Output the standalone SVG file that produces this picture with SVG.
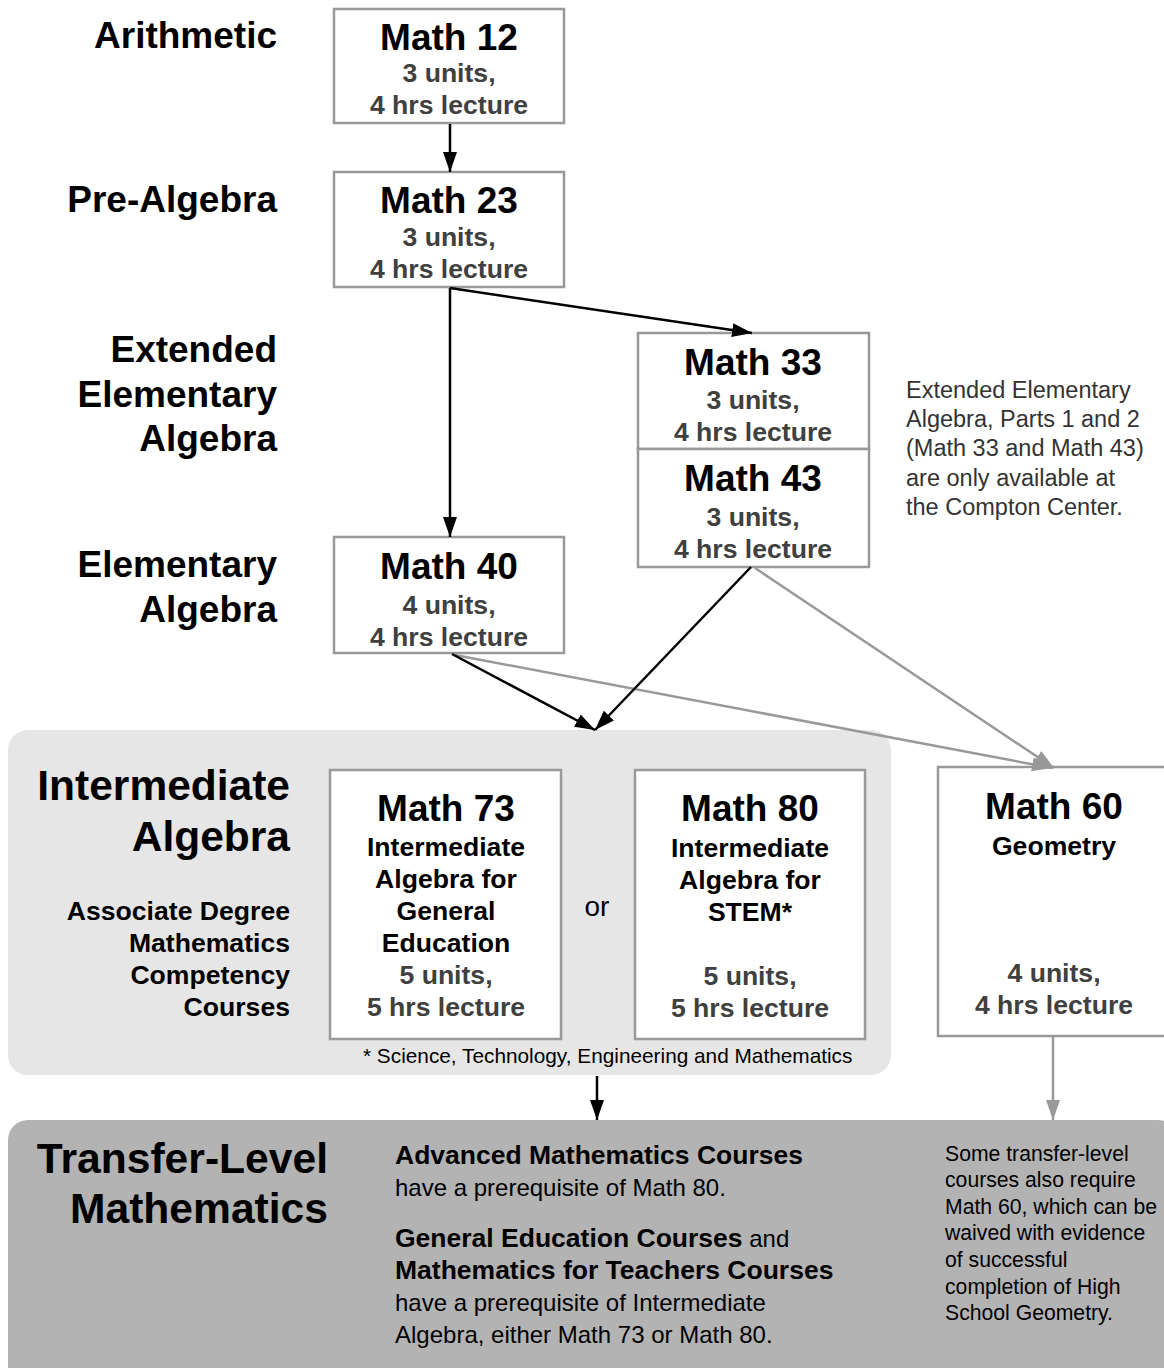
<svg xmlns="http://www.w3.org/2000/svg" width="1164" height="1368" viewBox="0 0 1164 1368">
<style>
text{font-family:"Liberation Sans",Arial,sans-serif}
.box{fill:#fff;stroke:#999;stroke-width:2.5}
.lbl{font-weight:bold;font-size:37px;fill:#000;text-anchor:end}
.ttl{font-weight:bold;font-size:37px;fill:#000;text-anchor:middle}
.sub{font-weight:bold;font-size:26.6px;fill:#404040;text-anchor:middle}
.subk{font-weight:bold;font-size:26.6px;fill:#000;text-anchor:middle}
.big{font-weight:bold;font-size:42.5px;fill:#000;text-anchor:end}
.note{font-size:23.5px;fill:#333}
.blk{stroke:#000;stroke-width:2.5;fill:none}
.gry{stroke:#999;stroke-width:2.5;fill:none}
</style>
<defs>
<marker id="hb" viewBox="0 0 20 14" refX="20" refY="7" markerWidth="20" markerHeight="14" markerUnits="userSpaceOnUse" orient="auto">
<path d="M0,0 L20,7 L0,14 z" fill="#000"/>
</marker>
<marker id="hg" viewBox="0 0 20 14" refX="20" refY="7" markerWidth="20" markerHeight="14" markerUnits="userSpaceOnUse" orient="auto">
<path d="M0,0 L20,7 L0,14 z" fill="#999"/>
</marker>
</defs>

<g id="panel-intermediate">
<rect x="8" y="730" width="883" height="345" rx="20" fill="#e6e6e6"/>
<text class="big" x="290" y="800">Intermediate</text>
<text class="big" x="290" y="851">Algebra</text>
<text class="subk" x="290" y="920" style="text-anchor:end">Associate Degree</text>
<text class="subk" x="290" y="952" style="text-anchor:end">Mathematics</text>
<text class="subk" x="290" y="984" style="text-anchor:end">Competency</text>
<text class="subk" x="290" y="1016" style="text-anchor:end">Courses</text>
<text x="597" y="916" font-size="28" fill="#000" text-anchor="middle">or</text>
<text x="363" y="1063" font-size="20.8" fill="#000">* Science, Technology, Engineering and Mathematics</text>
</g>

<g id="panel-transfer">
<rect x="8" y="1120" width="1170" height="270" rx="20" fill="#b3b3b3"/>
<text x="328" y="1173" font-size="42.6" font-weight="bold" fill="#000" text-anchor="end">Transfer-Level</text>
<text x="328" y="1223" font-size="42.6" font-weight="bold" fill="#000" text-anchor="end">Mathematics</text>
<g font-size="24" fill="#000">
<text x="395" y="1164" font-weight="bold" font-size="26.5">Advanced Mathematics Courses</text>
<text x="395" y="1196">have a prerequisite of Math 80.</text>
<text x="395" y="1247"><tspan font-weight="bold" font-size="26.5">General Education Courses</tspan> and</text>
<text x="395" y="1279" font-weight="bold" font-size="26.5">Mathematics for Teachers Courses</text>
<text x="395" y="1311">have a prerequisite of Intermediate</text>
<text x="395" y="1343">Algebra, either Math 73 or Math 80.</text>
</g>
<g font-size="21.2" fill="#000">
<text x="945" y="1161">Some transfer-level</text>
<text x="945" y="1187">courses also require</text>
<text x="945" y="1214">Math 60, which can be</text>
<text x="945" y="1240">waived with evidence</text>
<text x="945" y="1267">of successful</text>
<text x="945" y="1294">completion of High</text>
<text x="945" y="1320">School Geometry.</text>
</g>
</g>

<g id="levels">
<text class="lbl" x="277" y="48">Arithmetic</text>
<text class="lbl" x="277" y="212">Pre-Algebra</text>
<text class="lbl" x="277" y="362">Extended</text>
<text class="lbl" x="277" y="407">Elementary</text>
<text class="lbl" x="277" y="451">Algebra</text>
<text class="lbl" x="277" y="577">Elementary</text>
<text class="lbl" x="277" y="622">Algebra</text>
</g>

<g id="math12">
<rect class="box" x="334" y="9" width="230" height="114"/>
<text class="ttl" x="449" y="50">Math 12</text>
<text class="sub" x="449" y="82">3 units,</text>
<text class="sub" x="449" y="114">4 hrs lecture</text>
</g>
<g id="math23">
<rect class="box" x="334" y="172" width="230" height="115"/>
<text class="ttl" x="449" y="213">Math 23</text>
<text class="sub" x="449" y="246">3 units,</text>
<text class="sub" x="449" y="278">4 hrs lecture</text>
</g>
<g id="math33">
<rect class="box" x="638" y="333" width="231" height="116"/>
<text class="ttl" x="753" y="375">Math 33</text>
<text class="sub" x="753" y="409">3 units,</text>
<text class="sub" x="753" y="441">4 hrs lecture</text>
</g>
<g id="math43">
<rect class="box" x="638" y="449" width="231" height="118"/>
<text class="ttl" x="753" y="491">Math 43</text>
<text class="sub" x="753" y="526">3 units,</text>
<text class="sub" x="753" y="558">4 hrs lecture</text>
</g>
<g id="note-33-43" class="note">
<text x="906" y="398">Extended Elementary</text>
<text x="906" y="427">Algebra, Parts 1 and 2</text>
<text x="906" y="456">(Math 33 and Math 43)</text>
<text x="906" y="486">are only available at</text>
<text x="906" y="515">the Compton Center.</text>
</g>
<g id="math40">
<rect class="box" x="334" y="537" width="230" height="116"/>
<text class="ttl" x="449" y="579">Math 40</text>
<text class="sub" x="449" y="614">4 units,</text>
<text class="sub" x="449" y="646">4 hrs lecture</text>
</g>
<g id="math73">
<rect class="box" x="330" y="770" width="231" height="269"/>
<text class="ttl" x="446" y="821">Math 73</text>
<text class="subk" x="446" y="856">Intermediate</text>
<text class="subk" x="446" y="888">Algebra for</text>
<text class="subk" x="446" y="920">General</text>
<text class="subk" x="446" y="952">Education</text>
<text class="sub" x="446" y="984">5 units,</text>
<text class="sub" x="446" y="1016">5 hrs lecture</text>
</g>
<g id="math80">
<rect class="box" x="635" y="770" width="230" height="269"/>
<text class="ttl" x="750" y="821">Math 80</text>
<text class="subk" x="750" y="857">Intermediate</text>
<text class="subk" x="750" y="889">Algebra for</text>
<text class="subk" x="750" y="921">STEM*</text>
<text class="sub" x="750" y="985">5 units,</text>
<text class="sub" x="750" y="1017">5 hrs lecture</text>
</g>
<g id="math60">
<rect class="box" x="938" y="767" width="250" height="269"/>
<text class="ttl" x="1054" y="819">Math 60</text>
<text class="subk" x="1054" y="855">Geometry</text>
<text class="sub" x="1054" y="982">4 units,</text>
<text class="sub" x="1054" y="1014">4 hrs lecture</text>
</g>

<g id="connectors">
<line class="blk" x1="450" y1="124" x2="450" y2="172" marker-end="url(#hb)"/>
<line class="blk" x1="450" y1="288" x2="450" y2="537" marker-end="url(#hb)"/>
<line class="blk" x1="450" y1="288" x2="752" y2="333" marker-end="url(#hb)"/>
<line class="gry" x1="455" y1="655" x2="1052" y2="768" marker-end="url(#hg)"/>
<line class="gry" x1="755" y1="568" x2="1054" y2="768" marker-end="url(#hg)"/>
<line class="blk" x1="452" y1="654" x2="595" y2="730" marker-end="url(#hb)"/>
<line class="blk" x1="751" y1="567" x2="595" y2="730" marker-end="url(#hb)"/>
<line class="blk" x1="597" y1="1076" x2="597" y2="1120" marker-end="url(#hb)"/>
<line class="gry" x1="1053" y1="1037" x2="1053" y2="1120" marker-end="url(#hg)"/>
</g>
</svg>
